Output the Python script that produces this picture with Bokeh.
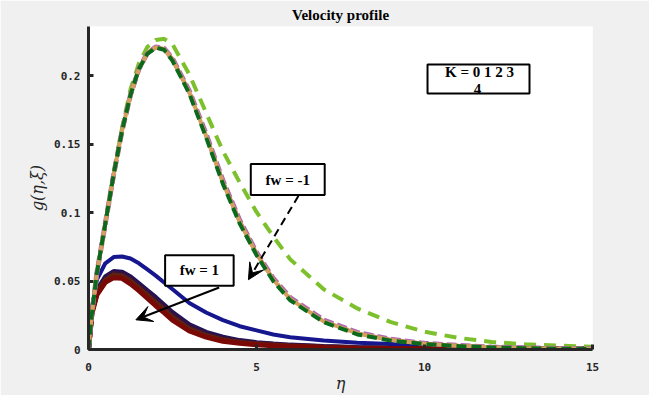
from bokeh.plotting import figure
from bokeh.models import Range1d, Label, Arrow, VeeHead, BoxAnnotation, FixedTicker
from bokeh.embed import file_html
from bokeh.resources import INLINE

# ---------------- data ----------------
eta = [0, 0.1, 0.25, 0.5, 0.75, 1.0, 1.25, 1.5, 1.75, 2.0, 2.25, 2.5, 3.0, 3.5,
       4.0, 4.5, 5.0, 5.5, 6.0, 7.0, 8.0, 9.0, 10.0, 11.0, 12.0, 13.0, 14.0, 15.0]

# fw = -1 (dashed)
g_m1_k0 = [0, 0.026, 0.056, 0.092, 0.128, 0.160, 0.186, 0.205, 0.2163, 0.2208, 0.2195, 0.212, 0.188,
           0.1565, 0.1225, 0.0935, 0.070, 0.051, 0.037, 0.0205, 0.0118, 0.0070, 0.0042, 0.0027,
           0.0016, 0.0011, 0.0007, 0.0004]
g_m1_k1 = [0, 0.026, 0.056, 0.092, 0.128, 0.160, 0.186, 0.205, 0.2165, 0.2210, 0.2200, 0.2125, 0.189,
           0.1575, 0.1235, 0.0945, 0.071, 0.052, 0.038, 0.0215, 0.0125, 0.0075, 0.0045, 0.0030,
           0.0018, 0.0012, 0.0008, 0.0005]
g_m1_k2 = [0, 0.026, 0.056, 0.092, 0.128, 0.160, 0.186, 0.205, 0.2163, 0.2207, 0.2195, 0.2118, 0.188,
           0.1562, 0.1222, 0.0932, 0.070, 0.051, 0.037, 0.0205, 0.0117, 0.0069, 0.0042, 0.0027,
           0.0016, 0.0011, 0.0007, 0.0004]
g_m1_k3 = [0, 0.026, 0.056, 0.092, 0.128, 0.160, 0.186, 0.205, 0.2160, 0.2205, 0.2190, 0.2110, 0.187,
           0.1550, 0.1210, 0.0920, 0.069, 0.050, 0.036, 0.0200, 0.0110, 0.0065, 0.0040, 0.0025,
           0.0015, 0.0010, 0.0006, 0.0004]
g_m1_k4 = [0, 0.026, 0.056, 0.092, 0.129, 0.162, 0.190, 0.209, 0.2210, 0.2262, 0.2270, 0.2230, 0.201,
           0.1730, 0.1450, 0.1220, 0.1005, 0.0825, 0.066, 0.0440, 0.0300, 0.0200, 0.0130, 0.0085,
           0.0055, 0.0038, 0.0028, 0.0020]

# fw = 1 (solid)
g_p1_k0 = [0, 0.030, 0.051, 0.063, 0.0675, 0.068, 0.0665, 0.063, 0.0585, 0.054, 0.049, 0.044, 0.034,
           0.027, 0.0215, 0.017, 0.014, 0.011, 0.009, 0.0065, 0.0050, 0.0040, 0.0030, 0.0022,
           0.0016, 0.0012, 0.0009, 0.0007]
g_p1_k1 = [0, 0.028, 0.043, 0.053, 0.057, 0.0565, 0.053, 0.048, 0.043, 0.038, 0.0325, 0.027, 0.018,
           0.0125, 0.009, 0.0065, 0.005, 0.004, 0.0032, 0.0022, 0.0015, 0.0010, 0.0007, 0.0005,
           0.0004, 0.0003, 0.0002, 0.0002]
g_p1_k2 = [0, 0.0275, 0.042, 0.052, 0.056, 0.0552, 0.0515, 0.0465, 0.0415, 0.036, 0.031, 0.0255, 0.0165,
           0.0113, 0.008, 0.0058, 0.0045, 0.0036, 0.0029, 0.0020, 0.0013, 0.0009, 0.0006, 0.0005,
           0.0004, 0.0003, 0.0002, 0.0002]
g_p1_k3 = [0, 0.027, 0.041, 0.0505, 0.0545, 0.0538, 0.050, 0.0448, 0.0395, 0.034, 0.029, 0.0235, 0.015,
           0.0101, 0.007, 0.0051, 0.0040, 0.0032, 0.0025, 0.0017, 0.0011, 0.0008, 0.0005, 0.0004,
           0.0003, 0.0002, 0.0002, 0.0001]
g_p1_k4 = [0, 0.026, 0.040, 0.049, 0.0525, 0.052, 0.048, 0.043, 0.0375, 0.032, 0.027, 0.0215, 0.0135,
           0.009, 0.006, 0.0045, 0.0035, 0.0028, 0.0022, 0.0015, 0.0010, 0.0007, 0.0005, 0.0004,
           0.0003, 0.0002, 0.0002, 0.0001]

x_ticks = [0, 5, 10, 15]
y_ticks = [0, 0.05, 0.1, 0.15, 0.2]
title_text = "Velocity profile"
k_line1 = "K = 0 1 2 3"
k_line2 = "4"
fw_m1_text = "fw = -1"
fw_p1_text = "fw = 1"

# ---------------- figure ----------------
p = figure(width=649, height=395, x_range=Range1d(0, 15), y_range=Range1d(0, 0.236),
           output_backend="svg", toolbar_location=None,
           min_border_left=88, min_border_right=57, min_border_top=26, min_border_bottom=46,
           background_fill_color="white", border_fill_color="#f0f0f0",
           outline_line_color=None, title=title_text)

p.title.align = "center"
p.title.text_font = "Liberation Serif"
p.title.text_font_style = "bold"
p.title.text_font_size = "15px"
p.title.text_color = "black"
p.title.standoff = 8

p.grid.visible = False

for ax in (p.xaxis[0], p.yaxis[0]):
    ax.axis_line_color = "#262626"
    ax.axis_line_width = 3
    ax.major_tick_line_color = "#262626"
    ax.major_tick_line_width = 3
    ax.major_tick_in = 5
    ax.major_tick_out = 0
    ax.minor_tick_line_color = None
    ax.major_label_text_font = "DejaVu Sans Mono"
    ax.major_label_text_font_style = "bold"
    ax.major_label_text_font_size = "11px"
    ax.major_label_text_color = "#262626"
    ax.axis_label_text_font = "DejaVu Serif"
    ax.axis_label_text_font_style = "italic"
    ax.axis_label_text_color = "#262626"

p.xaxis.ticker = FixedTicker(ticks=x_ticks)
p.yaxis.ticker = FixedTicker(ticks=y_ticks)
p.xaxis.major_label_overrides = {0: "0", 5: "5", 10: "10", 15: "15"}
p.yaxis.major_label_overrides = {0: "0", 0.05: "0.05", 0.1: "0.1", 0.15: "0.15", 0.2: "0.2"}
p.xaxis.axis_label = "η"
p.yaxis.axis_label = "g(η,ξ)"
p.xaxis.axis_label_text_font_size = "16px"
p.yaxis.axis_label_text_font_size = "16px"
p.xaxis.major_label_standoff = 13
p.yaxis.major_label_standoff = 8
p.xaxis.axis_label_standoff = 0
p.yaxis.axis_label_standoff = 4

# fw = 1 solid group
p.line(eta, g_p1_k0, line_color="#16168f", line_width=4)
p.line(eta, g_p1_k1, line_color="#1e1458", line_width=5)
p.line(eta, g_p1_k2, line_color="#3a1040", line_width=5)
p.line(eta, g_p1_k3, line_color="#5a2410", line_width=5)
p.line(eta, g_p1_k4, line_color="#7a0804", line_width=5)

# fw = -1 dashed group
p.line(eta, g_m1_k4, line_color="#7cc12c", line_width=4, line_dash="12 8")
p.line(eta, g_m1_k0, line_color="#c8324a", line_width=4, line_dash="10 5")
p.line(eta, g_m1_k1, line_color="#b068b4", line_width=5, line_dash="10 4")
p.line(eta, g_m1_k2, line_color="#d2a05c", line_width=4)
p.line(eta, g_m1_k3, line_color="#0c6a1c", line_width=4, line_dash="10 5")

# annotation boxes
box_kw = dict(fill_color="white", fill_alpha=1, line_color="black", line_alpha=1, line_width=2)
p.add_layout(BoxAnnotation(left=10.09, right=13.125, bottom=0.1871, top=0.2083, **box_kw))
p.add_layout(BoxAnnotation(left=4.83, right=7.03, bottom=0.1128, top=0.1355, **box_kw))
p.add_layout(BoxAnnotation(left=2.28, right=4.32, bottom=0.0466, top=0.0689, **box_kw))

lab_kw = dict(text_font="Liberation Serif", text_font_style="bold", text_font_size="15px",
              text_color="black", text_align="center", text_baseline="middle")
p.add_layout(Label(x=11.64, y=0.2025, text=k_line1, **lab_kw))
p.add_layout(Label(x=11.58, y=0.1905, text=k_line2, **lab_kw))
p.add_layout(Label(x=5.93, y=0.1242, text=fw_m1_text, **lab_kw))
p.add_layout(Label(x=3.30, y=0.0578, text=fw_p1_text, **lab_kw))

# arrows
p.add_layout(Arrow(end=VeeHead(size=16, fill_color="black", line_color="black"),
                   x_start=6.25, y_start=0.1123, x_end=4.76, y_end=0.051,
                   line_color="black", line_width=2, line_dash="8 5"))
p.add_layout(Arrow(end=VeeHead(size=16, fill_color="black", line_color="black"),
                   x_start=3.89, y_start=0.0453, x_end=1.41, y_end=0.0217,
                   line_color="black", line_width=2))

open("out.html", "w").write(file_html(p, INLINE))
